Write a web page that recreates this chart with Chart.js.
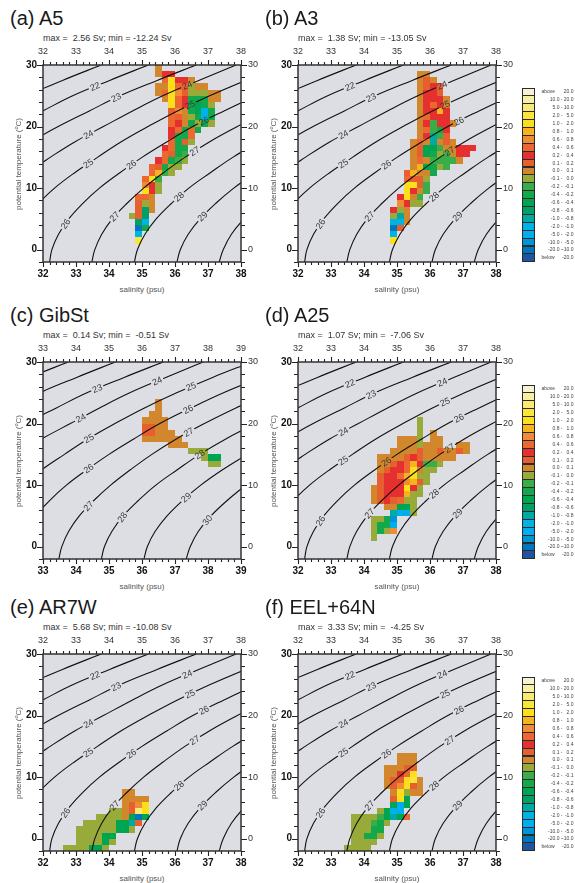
<!DOCTYPE html>
<html>
<head>
<meta charset="utf-8">
<title>Transport in T-S space</title>
<script src="https://cdn.jsdelivr.net/npm/chart.js@4.4.1/dist/chart.umd.min.js"></script>
<style>
html,body{margin:0;padding:0;background:#fff;}
body{width:575px;height:883px;position:relative;overflow:hidden;font-family:"Liberation Sans",Arial,Helvetica,sans-serif;}
canvas{position:absolute;}
.ttl{position:absolute;font-size:20px;line-height:20px;color:#1a1a1a;white-space:pre;}
.sub{position:absolute;font-size:9px;line-height:9px;color:#333;white-space:pre;}
.xt{position:absolute;font-size:8px;line-height:8px;color:#555;white-space:pre;text-align:center;width:120px;}
.yt{position:absolute;font-size:8px;line-height:8px;color:#555;white-space:pre;text-align:center;width:160px;transform:rotate(-90deg);}
.yt sup{font-size:5.5px;vertical-align:3px;line-height:0;}
.lgbox{position:absolute;width:13px;box-sizing:border-box;border:1px solid #2b2b2b;}
.lgt{position:absolute;font-size:5px;line-height:5px;color:#444;white-space:pre;}
</style>
</head>
<body>
<script>
// ---------------- data ----------------
const panelNames = ["(a) A5", "(b) A3", "(c) GibSt", "(d) A25", "(e) AR7W", "(f) EEL+64N"];
const maxSv = [2.56, 1.38, 0.14, 1.07, 5.68, 3.33];
const minSv = [-12.24, -13.05, -0.51, -7.06, -10.08, -4.25];
const salTicksMain = [32, 33, 34, 35, 36, 37, 38];
const salTicksGib = [33, 34, 35, 36, 37, 38, 39];
const tempTicks = [0, 10, 20, 30];

// transport classes (Sv), colour key letters A..V
const classKeys = "ABCDEFGHIJKLMNOPQRSTUV";
const classLow = ["above", "10.0 -", "5.0 -", "2.0 -", "1.0 -", "0.8 -", "0.6 -", "0.4 -", "0.2 -", "0.1 -", "0.0 -",
  "-0.1 -", "-0.2 -", "-0.4 -", "-0.6 -", "-0.8 -", "-1.0 -", "-2.0 -", "-5.0 -", "-10.0 -", "-20.0 -", "below"];
const classHigh = ["20.0", "20.0", "10.0", "5.0", "2.0", "1.0", "0.8", "0.6", "0.4", "0.2", "0.1",
  "0.0", "-0.1", "-0.2", "-0.4", "-0.6", "-0.8", "-1.0", "-2.0", "-5.0", "-10.0", "-20.0"];
const classColors = ["#f7f3d2", "#f8efa6", "#f9ea74", "#f8e63a", "#fbdf1c", "#f5b320", "#f08c33", "#ec6830", "#e63030", "#e75f2e", "#d3872d",
  "#98aa3a", "#38ad48", "#12a84b", "#00a551", "#00a067", "#00a9a2", "#00b3e6", "#00adee", "#0095d7", "#0076bf", "#1f54a0"];

// cells: [temperature bin bottom (degC), first salinity bin (psu), class letters per 0.2 psu bin]
const cellsA = [
  [29, 35.4, "K"], [28, 35.4, "KII"], [27, 35.6, "HEIIK"], [26, 35.4, "KKEHJLKK"],
  [25, 35.4, "KHEGJLLLKK"], [24, 35.6, "KEHINNNKK"], [23, 35.8, "EHINONL"], [22, 35.8, "JGKNORN"],
  [21, 35.8, "HJKLNRN"], [20, 35.8, "HIKNLNL"], [19, 35.8, "IHNHN"], [18, 35.8, "INNH"],
  [17, 35.8, "HNJL"], [16, 35.6, "IHNN"], [15, 35.6, "HJNM"], [14, 35.4, "IHNML"],
  [13, 35.2, "HJNLL"], [12, 35.2, "HFML"], [11, 35.0, "HEM"], [10, 35.0, "GIL"],
  [9, 35.0, "EIL"], [8, 34.8, "HHK"], [7, 34.8, "JLK"], [6, 34.8, "JPK"],
  [5, 34.6, "LJP"], [4, 34.8, "PR"], [3, 34.8, "UN"], [2, 34.8, "R"], [1, 34.8, "D"]
];
const cellsB = [
  [28, 35.6, "KK"], [27, 35.6, "KJK"], [26, 35.6, "KJIJ"], [25, 35.6, "KIIJ"],
  [24, 35.6, "KIIIK"], [23, 35.6, "KIHIK"], [22, 35.6, "KIIFI"], [21, 35.6, "KHIII"],
  [20, 35.6, "KIMIIK"], [19, 35.6, "KHMNI"], [18, 35.6, "KIQMJ"], [17, 35.4, "KHKQKJK"],
  [16, 35.4, "KJOOMKKIII"], [15, 35.4, "KJONLMKII"], [14, 35.4, "KHKMMMMK"], [13, 35.4, "KFONLM"],
  [12, 35.2, "JFKKN"], [11, 35.2, "HJJL"], [10, 35.2, "EEJM"], [9, 35.2, "EIKM"],
  [8, 35.0, "IEKM"], [7, 35.0, "GILL"], [6, 34.8, "ILK"], [5, 34.8, "LQK"],
  [4, 34.8, "RRK"], [3, 34.8, "UJ"], [2, 34.8, "R"], [1, 34.8, "E"]
];
const cellsC = [
  [23, 36.4, "K"], [22, 36.4, "K"], [21, 36.2, "KK"], [20, 36.0, "KKKK"],
  [19, 36.0, "JJKK"], [18, 36.0, "JJKKK"], [17, 36.0, "KKKKKK"], [16, 36.8, "KKK"],
  [15, 37.4, "LLL"], [14, 37.8, "LOO"], [13, 38.0, "LL"]
];
const cellsD = [
  [20, 35.6, "L"], [19, 35.6, "L"], [18, 35.6, "L.K"], [17, 35.0, "KKKL.KK"],
  [16, 35.0, "KKKLKKK..KK"], [15, 34.8, "KKKKJKKJKKJK"], [14, 34.4, "KKKKJIJKKKKK"], [13, 34.4, "KKJIHFIMML"],
  [12, 34.4, "KJIIHEKLL"], [11, 34.4, "JIIHFELL"], [10, 34.4, "JIIIGFJL"], [9, 34.2, "KJIIIEIL"],
  [8, 34.2, "KJIIIFLL"], [7, 34.2, "KJIJHLL"], [6, 34.6, "KKOOL"], [5, 34.8, "QSSL"],
  [4, 34.2, "LLNT"], [3, 34.2, "LNNS"], [2, 34.2, "LNLG"], [1, 34.2, "L"]
];
const cellsE = [
  [7, 34.4, "KK"], [6, 34.4, "KKKK"], [5, 34.4, "KJGE"], [4, 34.0, "LLKJCE"],
  [3, 33.6, "LLLLKOUO"], [2, 33.2, "LLLLLOOQJ"], [1, 33.0, "LLLLLLOOL"], [0, 33.0, "LLLLOO"],
  [-1, 33.0, "LLLLOL"], [-2, 32.6, "LLLLOOL"]
];
const cellsF = [
  [13, 35.0, "KKK"], [12, 35.0, "KKK"], [11, 34.6, "KKKJJ"], [10, 34.6, "KKIHE"],
  [9, 34.6, "KJJEDK"], [8, 34.6, "KJGEJK"], [7, 34.8, "KELKK"], [6, 34.8, "JEO"],
  [5, 34.8, "OSO"], [4, 34.4, "LORS"], [3, 33.6, "LLLLMOQOH"], [2, 33.6, "LLLMNL"],
  [1, 33.6, "LLLNN"], [0, 33.6, "LLNNL"], [-1, 33.6, "LLLL"], [-2, 33.4, "LLLL"]
];

// potential density (sigma-theta) contours: [salinity, temperature]
const sigma21 = [[31.48, 25], [32.59, 27.5], [33.76, 30]];
const sigma22 = [[31.07, 20], [31.98, 22.5], [32.90, 25], [34.02, 27.5], [35.19, 30]];
const sigma23 = [[30.84, 15], [31.62, 17.5], [32.46, 20], [33.39, 22.5], [34.33, 25], [35.46, 27.5], [36.64, 30]];
const sigma24 = [[30.94, 10], [31.53, 12.5], [32.22, 15], [32.96, 17.5], [33.83, 20], [34.70, 22.5], [35.63, 25], [36.72, 27.5], [37.85, 30]];
const sigma25 = [[31.45, 5], [31.86, 7.5], [32.35, 10], [32.96, 12.5], [33.65, 15], [34.36, 17.5], [35.18, 20], [36.06, 22.5], [37.05, 25], [38.14, 27.5], [39.33, 30]];
const sigma26 = [[32.20, -2], [32.27, 0], [32.47, 2.5], [32.78, 5], [33.20, 7.5], [33.71, 10], [34.33, 12.5], [35.00, 15], [35.75, 17.5], [36.54, 20], [37.47, 22.5], [38.47, 25], [39.60, 27.5]];
const sigma27 = [[33.48, -2], [33.57, 0], [33.78, 2.5], [34.10, 5], [34.54, 7.5], [35.05, 10], [35.65, 12.5], [36.30, 15], [37.04, 17.5], [37.89, 20], [38.83, 22.5], [39.89, 25]];
const sigma28 = [[34.77, -2], [34.86, 0], [35.09, 2.5], [35.43, 5], [35.89, 7.5], [36.42, 10], [37.07, 12.5], [37.75, 15], [38.54, 17.5], [39.44, 20]];
const sigma29 = [[36.06, -2], [36.16, 0], [36.40, 2.5], [36.76, 5], [37.23, 7.5], [37.78, 10], [38.44, 12.5], [39.19, 15]];
const sigma30 = [[37.34, -2], [37.46, 0], [37.71, 2.5], [38.09, 5], [38.58, 7.5], [39.14, 10]];
const contourSet = [[21, sigma21], [22, sigma22], [23, sigma23], [24, sigma24], [25, sigma25], [26, sigma26], [27, sigma27], [28, sigma28], [29, sigma29], [30, sigma30]];

// contour labels: [sigma, temperature where the label sits]
const labelsMain = [[22, 26.5], [23, 24.7], [24, 18.7], [24, 26.7], [25, 14.0], [25, 23.5], [26, 4.2], [26, 13.8], [26, 20.9], [27, 5.4], [27, 16.0], [28, 8.6], [29, 5.4]];
const labelsGib = [[23, 25.7], [24, 20.9], [24, 26.9], [25, 17.6], [25, 26.0], [26, 12.7], [26, 22.3], [27, 6.6], [27, 18.6], [28, 4.8], [28, 15.0], [29, 8.0], [30, 4.3]];

// ---------------- layout / style ----------------
const FONT = '"Liberation Sans", Arial, sans-serif';
const PLOT_BG = '#dddee3';
const W = 198, H = 197, PL = 40, PR = 30, PT = 20, PB = 22;
const panelBox = [[43, 65], [298, 65], [43, 362], [298, 362], [43, 654], [298, 654]];
const LABEL_FONT = '9px ' + FONT;

function contourPts(sig) {
  for (const c of contourSet) if (c[0] === sig) return c[1];
  return null;
}
function labelPlace(chart, sig, t) {
  const pts = contourPts(sig);
  const xs = chart.scales.x, ys = chart.scales.y;
  for (let i = 0; i < pts.length - 1; i++) {
    const a = pts[i], b = pts[i + 1];
    if (t >= a[1] && t <= b[1]) {
      const f = (t - a[1]) / (b[1] - a[1]);
      const s = a[0] + f * (b[0] - a[0]);
      const ang = Math.atan2(ys.getPixelForValue(b[1]) - ys.getPixelForValue(a[1]),
        xs.getPixelForValue(b[0]) - xs.getPixelForValue(a[0]));
      return { x: xs.getPixelForValue(s), y: ys.getPixelForValue(t), a: ang };
    }
  }
  return null;
}
function fmt(v, w) { let s = v.toFixed(2); while (s.length < w) s = ' ' + s; return s; }

function addText(cls, txt, left, top, html) {
  const d = document.createElement('div');
  d.className = cls;
  if (html) d.innerHTML = txt; else d.textContent = txt;
  d.style.left = left + 'px';
  d.style.top = top + 'px';
  document.body.appendChild(d);
  return d;
}

function makePlugin(cells, labels, xmin) {
  return {
    id: 'tsPanel',
    beforeDraw(chart) {
      const { ctx, chartArea: ca } = chart;
      ctx.save();
      ctx.fillStyle = PLOT_BG;
      ctx.fillRect(ca.left, ca.top, ca.width, ca.height);
      ctx.restore();
    },
    beforeDatasetsDraw(chart) {
      const { ctx, chartArea: ca } = chart;
      const xs = chart.scales.x, ys = chart.scales.y;
      ctx.save();
      ctx.beginPath(); ctx.rect(ca.left, ca.top, ca.width, ca.height); ctx.clip();
      for (const row of cells) {
        const t = row[0], s0 = row[1], codes = row[2];
        const y0 = Math.round(ys.getPixelForValue(t + 1)), y1 = Math.round(ys.getPixelForValue(t));
        for (let i = 0; i < codes.length; i++) {
          const k = classKeys.indexOf(codes[i]);
          if (k < 0) continue;
          const x0 = Math.round(xs.getPixelForValue(s0 + 0.2 * i));
          const x1 = Math.round(xs.getPixelForValue(s0 + 0.2 * (i + 1)));
          ctx.fillStyle = classColors[k];
          ctx.fillRect(x0, y0, x1 - x0, y1 - y0);
        }
      }
      ctx.restore();
      // clip out label boxes so contour lines break under labels
      ctx.save();
      ctx.font = LABEL_FONT;
      const p = new Path2D();
      p.rect(0, 0, chart.width, chart.height);
      chart.$labelGeo = [];
      for (const [sig, t] of labels) {
        const g = labelPlace(chart, sig, t);
        if (!g) continue;
        g.txt = String(sig);
        const w = ctx.measureText(g.txt).width + 3, h = 8;
        chart.$labelGeo.push(g);
        const c = Math.cos(g.a), s = Math.sin(g.a);
        const cs = [[-w / 2, -h / 2], [w / 2, -h / 2], [w / 2, h / 2], [-w / 2, h / 2]]
          .map(([u, v]) => [g.x + u * c - v * s, g.y + u * s + v * c]);
        p.moveTo(cs[0][0], cs[0][1]);
        for (let k = 1; k < 4; k++) p.lineTo(cs[k][0], cs[k][1]);
        p.closePath();
      }
      ctx.clip(p, 'evenodd');
    },
    afterDatasetsDraw(chart) {
      const ctx = chart.ctx;
      ctx.restore();
      ctx.save();
      ctx.font = LABEL_FONT;
      ctx.fillStyle = '#3a3a3a';
      ctx.textAlign = 'center';
      ctx.textBaseline = 'middle';
      for (const g of chart.$labelGeo) {
        ctx.save();
        ctx.translate(g.x, g.y);
        ctx.rotate(g.a);
        ctx.fillText(g.txt, 0, 0.5);
        ctx.restore();
      }
      ctx.restore();
    },
    afterDraw(chart) {
      const { ctx, chartArea: ca } = chart;
      const xs = chart.scales.x, ys = chart.scales.y;
      ctx.save();
      ctx.strokeStyle = '#222';
      ctx.lineWidth = 1.1;
      ctx.beginPath();
      for (let k = 0; k <= 30; k++) {
        const v = xmin + k * 0.2;
        const px = Math.round(xs.getPixelForValue(v)) + 0.5;
        const len = (k % 5 === 0) ? 5 : 3;
        ctx.moveTo(px, ca.bottom); ctx.lineTo(px, ca.bottom + len);
        ctx.moveTo(px, ca.top); ctx.lineTo(px, ca.top - len);
      }
      for (let v = -2; v <= 30; v += 2) {
        const py = Math.round(ys.getPixelForValue(v)) + 0.5;
        const len = (v % 10 === 0) ? 6 : 4;
        ctx.moveTo(ca.left - len, py); ctx.lineTo(ca.left, py);
        ctx.moveTo(ca.right, py); ctx.lineTo(ca.right + len, py);
      }
      ctx.stroke();
      ctx.strokeStyle = '#333';
      ctx.lineWidth = 1.5;
      ctx.strokeRect(ca.left, ca.top, ca.width, ca.height);
      ctx.restore();
    }
  };
}

function axisCommon(extra) {
  return Object.assign({
    type: 'linear',
    grid: { display: false, drawTicks: false },
    border: { display: false }
  }, extra);
}

function buildPanel(i, cells, labels, xmin, xmax, xticks, withLegend) {
  const L = panelBox[i][0], T = panelBox[i][1];
  const cv = document.createElement('canvas');
  cv.width = W + PL + PR; cv.height = H + PT + PB;
  cv.style.left = (L - PL) + 'px'; cv.style.top = (T - PT) + 'px';
  cv.style.width = cv.width + 'px'; cv.style.height = cv.height + 'px';
  document.body.appendChild(cv);

  const datasets = contourSet.map(([sig, pts]) => ({
    label: 'sigma ' + sig,
    data: pts.map(p => ({ x: p[0], y: p[1] })),
    showLine: true,
    borderColor: '#111',
    borderWidth: 1.1,
    pointRadius: 0,
    tension: 0.4,
    fill: false
  }));

  const setX = s => { s.ticks = xticks.map(v => ({ value: v })); };
  const setY = s => { s.ticks = tempTicks.map(v => ({ value: v })); };
  const boldTick = { size: 10, weight: 'bold', family: FONT };
  const thinTick = { size: 9, family: FONT };

  new Chart(cv, {
    type: 'scatter',
    data: { datasets },
    options: {
      responsive: false,
      animation: false,
      devicePixelRatio: 1,
      events: [],
      layout: { padding: 0 },
      elements: { line: { capBezierPoints: false } },
      plugins: { legend: { display: false }, tooltip: { enabled: false } },
      scales: {
        x: axisCommon({ position: 'bottom', min: xmin, max: xmax, afterBuildTicks: setX,
          afterFit: s => { s.height = PB; },
          ticks: { padding: 6, color: '#111', font: boldTick, maxRotation: 0, autoSkip: false } }),
        x2: axisCommon({ axis: 'x', position: 'top', min: xmin, max: xmax, afterBuildTicks: setX,
          afterFit: s => { s.height = PT; },
          ticks: { padding: 8, color: '#333', font: thinTick, maxRotation: 0, autoSkip: false } }),
        y: axisCommon({ position: 'left', min: -2, max: 30, afterBuildTicks: setY,
          afterFit: s => { s.width = PL; },
          ticks: { padding: 6, color: '#111', font: boldTick, autoSkip: false } }),
        y2: axisCommon({ axis: 'y', position: 'right', min: -2, max: 30, afterBuildTicks: setY,
          afterFit: s => { s.width = PR; },
          ticks: { padding: 7, color: '#333', font: thinTick, autoSkip: false } })
      }
    },
    plugins: [makePlugin(cells, labels, xmin)]
  });

  // titles and axis titles
  addText('ttl', panelNames[i], L - 33, T - 57);
  addText('sub', 'max = ' + fmt(maxSv[i], 5) + ' Sv; min = ' + fmt(minSv[i], 6) + ' Sv', L, T - 31);
  addText('xt', 'salinity (psu)', L + W / 2 - 60, T + H + 24);
  addText('yt', 'potential temperature (<sup>o</sup>C)', L - 24.5 - 80, T + H / 2 - 4, true);

  if (withLegend) {
    const top0 = T + 22.5, rh = 7.9;
    for (let k = 0; k < classColors.length; k++) {
      const b = document.createElement('div');
      b.className = 'lgbox';
      b.style.left = '522px';
      b.style.top = (top0 + k * rh) + 'px';
      b.style.height = (rh + 1) + 'px';
      b.style.background = classColors[k];
      document.body.appendChild(b);
      const ty = top0 + k * rh + (rh - 5) / 2 + 0.5;
      const lo = classLow[k];
      const d1 = addText('lgt', lo, 0, ty);
      if (lo === 'above' || lo === 'below') { d1.style.left = '541.5px'; }
      else { d1.style.left = ''; d1.style.right = '12.5px'; }
      const d2 = addText('lgt', classHigh[k], 0, ty);
      d2.style.left = ''; d2.style.right = '1.5px';
    }
  }
}

buildPanel(0, cellsA, labelsMain, 32, 38, salTicksMain, false);
buildPanel(1, cellsB, labelsMain, 32, 38, salTicksMain, true);
buildPanel(2, cellsC, labelsGib, 33, 39, salTicksGib, false);
buildPanel(3, cellsD, labelsMain, 32, 38, salTicksMain, true);
buildPanel(4, cellsE, labelsMain, 32, 38, salTicksMain, false);
buildPanel(5, cellsF, labelsMain, 32, 38, salTicksMain, true);
</script>
</body>
</html>
